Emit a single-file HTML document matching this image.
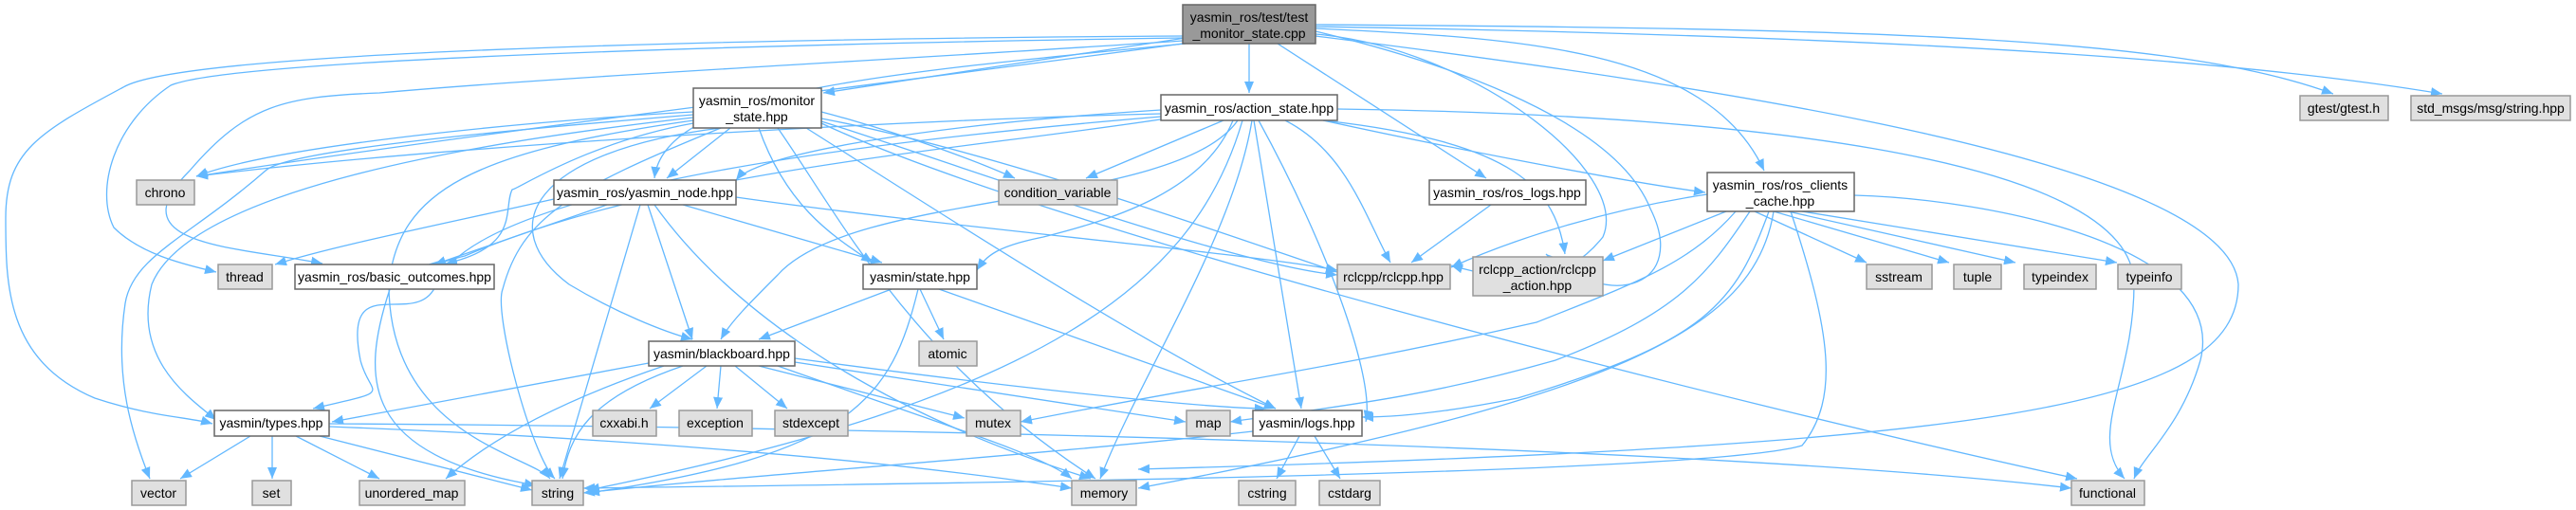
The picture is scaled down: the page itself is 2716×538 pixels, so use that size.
<!DOCTYPE html>
<html><head><meta charset="utf-8"><style>
html,body{margin:0;padding:0;background:#fff;width:2716px;height:538px;overflow:hidden}
svg{display:block}
text{font-family:"Liberation Sans",Arial,sans-serif;font-size:14px;fill:#000}
.e{fill:none;stroke:#63b8ff;stroke-width:1.3}
.n{fill:#fff;stroke:#666;stroke-width:1.5}
.s{fill:#e0e0e0;stroke:#999;stroke-width:1.5}
.t{fill:#999;stroke:#666;stroke-width:1.5}
</style></head><body>
<svg width="2716" height="538" viewBox="0 0 2716 538" xmlns="http://www.w3.org/2000/svg">
<defs><marker id="a" viewBox="0 0 12 10" refX="12" refY="5" markerWidth="12" markerHeight="10" markerUnits="userSpaceOnUse" orient="auto"><path d="M0,0 L12,5 L0,10 z" fill="#63b8ff"/></marker></defs>
<g class="e" marker-end="url(#a)">
<!-- from test -->
<path d="M1247,38 C900,40 200,50 130,92 C40,140 6,160 6,230 C6,300 6,380 100,420 C160,440 200,440 224,447"/>
<path d="M1247,40 C900,45 250,60 180,90 C120,130 100,200 120,240 C150,270 200,280 228,287"/>
<path d="M1247,43 C1000,60 600,80 400,98 C300,102 260,110 200,180 C120,260 250,260 340,278"/>
<path d="M1247,46 C1000,80 500,140 207,186"/>
<path d="M1250,40 L868,98"/>
<path d="M1250,46 C900,80 700,100 690,188"/>
<path d="M1317,46 L1317,98"/>
<path d="M1347,46 L1567,188"/>
<path d="M1387,30 C1600,40 1800,50 1860,180"/>
<path d="M1387,33 C1500,60 1700,120 1740,220 C1780,300 1700,330 1630,268"/>
<path d="M1387,36 C1550,50 1720,180 1690,250 C1650,300 1600,300 1530,280"/>
<path d="M1387,26 C2000,30 2300,40 2460,99"/>
<path d="M1387,28 C2100,40 2400,70 2575,99"/>
<path d="M1387,38 C1800,90 2350,170 2360,300 C2360,430 2100,470 1200,495"/>
<!-- monitor -->
<path d="M731,118 C600,125 300,150 207,186"/>
<path d="M731,121 C500,140 300,160 280,180 C200,250 140,270 132,320 C120,400 140,460 158,505"/>
<path d="M731,124 C500,150 200,200 160,300 C140,380 200,420 228,443"/>
<path d="M731,127 C500,160 420,200 410,300 C410,460 560,480 580,505"/>
<path d="M731,130 C620,150 545,200 540,200 C530,220 550,260 470,278"/>
<path d="M770,135 L703,188"/>
<path d="M760,135 C600,200 550,230 530,305 C520,330 560,480 585,505"/>
<path d="M760,135 C560,160 520,240 600,300 C650,330 700,350 730,358"/>
<path d="M800,135 C830,220 880,250 920,277"/>
<path d="M820,135 C880,220 960,380 1155,505"/>
<path d="M850,135 C1000,230 1200,360 1345,431"/>
<path d="M866,125 C1050,160 1300,250 1410,287"/>
<path d="M866,128 C1000,170 1300,280 1410,290"/>
<path d="M866,118 C950,140 1030,170 1070,188"/>
<path d="M866,130 C1100,240 1800,420 2190,505"/>
<!-- action -->
<path d="M1224,120 C1000,125 500,150 207,186"/>
<path d="M1224,123 C900,150 500,200 460,300 C440,350 360,280 380,380 C390,420 420,410 330,431"/>
<path d="M1224,116 C1000,130 800,160 776,190"/>
<path d="M1290,127 L1145,188"/>
<path d="M1300,127 C1270,200 1180,230 1100,250 C1050,260 1040,270 1030,285"/>
<path d="M1305,127 C1240,220 900,200 820,290 C790,320 770,340 760,358"/>
<path d="M1230,125 C1000,160 700,180 490,270 C470,275 460,280 450,279"/>
<path d="M1310,127 C1260,300 1100,420 620,517"/>
<path d="M1320,127 C1300,250 1200,400 1160,505"/>
<path d="M1322,127 L1372,431"/>
<path d="M1327,127 C1400,260 1450,400 1440,445"/>
<path d="M1355,127 C1420,160 1440,230 1466,277"/>
<path d="M1395,127 C1600,150 1640,200 1650,268"/>
<path d="M1395,127 C1500,150 1700,190 1798,203"/>
<path d="M1410,115 C1800,120 2250,160 2250,300 C2250,400 2200,460 2240,505"/>
<!-- ros_logs -->
<path d="M1572,216 L1488,277"/>
<!-- yasmin_node -->
<path d="M584,210 C450,240 350,260 290,279"/>
<path d="M640,216 L458,279"/>
<path d="M675,216 L590,505"/>
<path d="M683,216 L730,358"/>
<path d="M690,216 C750,300 880,420 1150,505"/>
<path d="M720,216 L930,277"/>
<path d="M776,208 C1000,240 1300,265 1410,285"/>
<!-- basic_outcomes -->
<path d="M411,305 C380,400 380,480 565,512"/>
<!-- state -->
<path d="M940,305 L800,358"/>
<path d="M970,305 L995,358"/>
<path d="M990,305 L1345,431"/>
<path d="M968,305 C940,420 900,480 620,520"/>
<!-- blackboard -->
<path d="M684,383 L350,445"/>
<path d="M745,386 L685,431"/>
<path d="M760,386 L756,431"/>
<path d="M775,386 L830,431"/>
<path d="M800,386 L1017,441"/>
<path d="M838,382 L1250,445"/>
<path d="M838,378 C1000,400 1250,430 1335,431"/>
<path d="M820,386 C1000,450 1100,480 1130,505"/>
<path d="M720,386 C620,420 600,460 593,505"/>
<path d="M700,386 C600,420 520,460 470,505"/>
<!-- types -->
<path d="M264,460 L190,505"/>
<path d="M287,460 L287,505"/>
<path d="M312,460 L400,505"/>
<path d="M337,460 L561,517"/>
<path d="M347,450 C600,460 900,480 1130,515"/>
<path d="M347,447 C900,450 1800,470 2184,515"/>
<!-- logs -->
<path d="M1321,455 C1100,480 800,500 615,520"/>
<path d="M1370,460 L1346,505"/>
<path d="M1386,460 L1413,505"/>
<!-- ros_clients_cache -->
<path d="M1800,205 C1700,220 1600,250 1530,282"/>
<path d="M1820,223 L1690,275"/>
<path d="M1850,223 L1968,277"/>
<path d="M1870,223 L2055,277"/>
<path d="M1885,223 L2125,277"/>
<path d="M1900,223 L2232,277"/>
<path d="M1830,223 C1780,280 1720,300 1620,340 C1400,390 1250,410 1076,445"/>
<path d="M1845,223 C1800,290 1770,330 1640,380 C1500,420 1400,430 1297,445"/>
<path d="M1865,223 C1830,320 1800,360 1600,420 C1500,440 1450,440 1436,440"/>
<path d="M1870,223 C1850,350 1700,420 1200,515"/>
<path d="M1888,223 C1930,350 1940,420 1900,470 C1800,500 1000,510 615,515"/>
<path d="M1955,206 C2100,210 2350,260 2320,380 C2300,450 2260,480 2250,505"/>
</g>
<!-- nodes -->
<g>
<rect class="t" x="1247" y="5" width="140" height="41"/>
<text x="1317" y="23" text-anchor="middle">yasmin_ros/test/test</text>
<text x="1317" y="40" text-anchor="middle">_monitor_state.cpp</text>

<rect class="n" x="731" y="93" width="135" height="42"/>
<text x="798" y="111" text-anchor="middle">yasmin_ros/monitor</text>
<text x="798" y="128" text-anchor="middle">_state.hpp</text>

<rect class="n" x="1224" y="100" width="186" height="27"/>
<text x="1317" y="119" text-anchor="middle">yasmin_ros/action_state.hpp</text>

<rect class="s" x="2425" y="101" width="93" height="26"/>
<text x="2471" y="119" text-anchor="middle">gtest/gtest.h</text>
<rect class="s" x="2542" y="101" width="168" height="26"/>
<text x="2626" y="119" text-anchor="middle">std_msgs/msg/string.hpp</text>

<rect class="s" x="144" y="190" width="61" height="26"/>
<text x="174" y="208" text-anchor="middle">chrono</text>
<rect class="n" x="584" y="190" width="192" height="26"/>
<text x="680" y="208" text-anchor="middle">yasmin_ros/yasmin_node.hpp</text>
<rect class="s" x="1053" y="190" width="125" height="26"/>
<text x="1115" y="208" text-anchor="middle">condition_variable</text>
<rect class="n" x="1507" y="190" width="165" height="26"/>
<text x="1589" y="208" text-anchor="middle">yasmin_ros/ros_logs.hpp</text>
<rect class="n" x="1800" y="182" width="155" height="41"/>
<text x="1877" y="200" text-anchor="middle">yasmin_ros/ros_clients</text>
<text x="1877" y="217" text-anchor="middle">_cache.hpp</text>

<rect class="s" x="230" y="279" width="57" height="26"/>
<text x="258" y="297" text-anchor="middle">thread</text>
<rect class="n" x="311" y="279" width="210" height="26"/>
<text x="416" y="297" text-anchor="middle">yasmin_ros/basic_outcomes.hpp</text>
<rect class="n" x="910" y="279" width="120" height="26"/>
<text x="970" y="297" text-anchor="middle">yasmin/state.hpp</text>
<rect class="s" x="1410" y="279" width="119" height="26"/>
<text x="1469" y="297" text-anchor="middle">rclcpp/rclcpp.hpp</text>
<rect class="s" x="1553" y="271" width="137" height="41"/>
<text x="1621" y="289" text-anchor="middle">rclcpp_action/rclcpp</text>
<text x="1621" y="306" text-anchor="middle">_action.hpp</text>
<rect class="s" x="1968" y="279" width="69" height="26"/>
<text x="2002" y="297" text-anchor="middle">sstream</text>
<rect class="s" x="2060" y="279" width="50" height="26"/>
<text x="2085" y="297" text-anchor="middle">tuple</text>
<rect class="s" x="2134" y="279" width="76" height="26"/>
<text x="2172" y="297" text-anchor="middle">typeindex</text>
<rect class="s" x="2233" y="279" width="67" height="26"/>
<text x="2266" y="297" text-anchor="middle">typeinfo</text>

<rect class="n" x="684" y="360" width="154" height="26"/>
<text x="761" y="378" text-anchor="middle">yasmin/blackboard.hpp</text>
<rect class="s" x="969" y="360" width="61" height="26"/>
<text x="999" y="378" text-anchor="middle">atomic</text>

<rect class="n" x="226" y="433" width="121" height="27"/>
<text x="286" y="451" text-anchor="middle">yasmin/types.hpp</text>
<rect class="s" x="625" y="433" width="67" height="27"/>
<text x="658" y="451" text-anchor="middle">cxxabi.h</text>
<rect class="s" x="716" y="433" width="77" height="27"/>
<text x="754" y="451" text-anchor="middle">exception</text>
<rect class="s" x="817" y="433" width="77" height="27"/>
<text x="855" y="451" text-anchor="middle">stdexcept</text>
<rect class="s" x="1019" y="433" width="57" height="27"/>
<text x="1047" y="451" text-anchor="middle">mutex</text>
<rect class="s" x="1251" y="433" width="46" height="27"/>
<text x="1274" y="451" text-anchor="middle">map</text>
<rect class="n" x="1321" y="433" width="115" height="27"/>
<text x="1378" y="451" text-anchor="middle">yasmin/logs.hpp</text>

<rect class="s" x="139" y="507" width="57" height="26"/>
<text x="167" y="525" text-anchor="middle">vector</text>
<rect class="s" x="266" y="507" width="41" height="26"/>
<text x="286" y="525" text-anchor="middle">set</text>
<rect class="s" x="379" y="507" width="111" height="26"/>
<text x="434" y="525" text-anchor="middle">unordered_map</text>
<rect class="s" x="561" y="507" width="54" height="26"/>
<text x="588" y="525" text-anchor="middle">string</text>
<rect class="s" x="1130" y="507" width="68" height="26"/>
<text x="1164" y="525" text-anchor="middle">memory</text>
<rect class="s" x="1306" y="507" width="60" height="26"/>
<text x="1336" y="525" text-anchor="middle">cstring</text>
<rect class="s" x="1391" y="507" width="64" height="26"/>
<text x="1423" y="525" text-anchor="middle">cstdarg</text>
<rect class="s" x="2184" y="507" width="77" height="26"/>
<text x="2222" y="525" text-anchor="middle">functional</text>
</g>
</svg>
</body></html>
